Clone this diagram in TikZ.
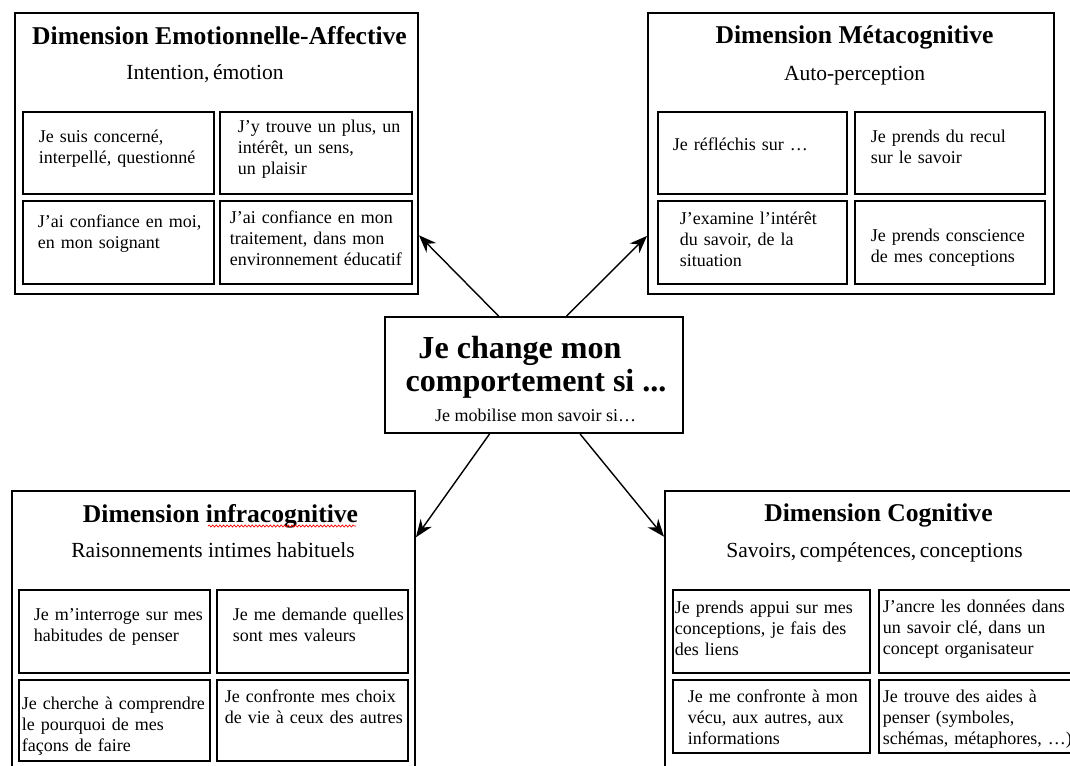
\documentclass[tikz,border=0pt]{standalone}
\usepackage{fontspec}
\setmainfont{Liberation Serif}
\usetikzlibrary{arrows.meta,decorations.pathmorphing}
\newlength{\pxu}
\setlength{\pxu}{0.025cm}
\newcommand\cellfont{\fontsize{12.8}{14.9}\selectfont}
\newcommand\headfont{\bfseries\fontsize{18.2}{20}\selectfont}
\newcommand\subfont{\fontsize{15.3}{17}\selectfont}
\newcommand\bigfont{\bfseries\fontsize{22.8}{24}\selectfont}

\begin{document}
\begin{tikzpicture}[x=0.025cm, y=-0.025cm,
		frame/.style 2 args={draw, line width=1.4pt, anchor=north west, inner sep=0pt,
			minimum width=#1*\pxu, minimum height=#2*\pxu},
		cell/.style n args={4}{draw, line width=1.3pt, anchor=north west, inner sep=0pt,
			font=\cellfont, text width=#1*\pxu, text height=#4*\pxu, text depth=(#2-#4)*\pxu,
			execute at begin node={\leftskip=#3\pxu\relax}},
		head/.style={anchor=base, font=\headfont},
		sub/.style={anchor=base, font=\subfont},
		link/.style={line width=1pt, -{Stealth[length=0.44cm, width=0.34cm]}}]
		\useasboundingbox (0,0) rectangle (1070,765);
		\clip (0,0) rectangle (1070,765);
		\node[frame={403}{281}] (emo) at (14,12) {};
		\node[frame={406}{281}] (meta) at (647,12) {};
		\node[frame={403}{290}] (infra) at (11,490) {};
		\node[frame={424}{290}] (cog) at (664,490) {};
		\node[frame={298}{116}] (ctr) at (384,316) {};
		\node[head] (emoT) at (219.5,44.5) {Dimension Emotionnelle-Affective};
		\node[sub] (emoS) at (205,79) {Intention,\,émotion};
		\node[head] (metaT) at (854.5,43.5) {Dimension Métacognitive};
		\node[sub] (metaS) at (854.5,80) {Auto-perception};
		\node[head] (infraT) at (220.5,522.5) {Dimension infracognitive};
		\node[sub] (infraS) at (213,557) {Raisonnements intimes habituels};
		\node[head] (cogT) at (878.5,521.5) {Dimension Cognitive};
		\node[sub] (cogS) at (874.5,557) {Savoirs,\,compétences,\,conceptions};
		\draw[red, line width=0.5pt, decorate, decoration={snake, amplitude=0.025cm, segment length=0.09cm}] (208,526) -- (356,526);
		\node[anchor=base, font=\bigfont] (ctrA) at (520,358) {Je change mon};
		\node[anchor=base, font=\bigfont] (ctrB) at (536,391) {comportement si ...};
		\node[anchor=base, font=\cellfont] (ctrS) at (535.5,421) {Je mobilise mon savoir si…};
		\node[cell={191}{82}{16}{31}] (emo1) at (22,111) {Je suis concerné,\\interpellé, questionné};
		\node[cell={192}{82}{18}{21}] (emo2) at (219,111) {J'y trouve un plus, un\\intérêt, un sens,\\un plaisir};
		\node[cell={191}{83}{15}{27}] (emo3) at (22,200) {J'ai confiance en moi,\\en mon soignant};
		\node[cell={192}{83}{10}{23}] (emo4) at (219,200) {J'ai confiance en mon\\traitement, dans mon\\environnement éducatif};
		\node[cell={189}{82}{15}{39}] (meta1) at (657,111) {Je réfléchis sur …};
		\node[cell={190}{82}{16}{31}] (meta2) at (854,111) {Je prends du recul\\sur le savoir};
		\node[cell={189}{83}{22}{24}] (meta3) at (657,200) {J'examine l'intérêt\\du savoir, de la\\situation};
		\node[cell={190}{83}{16}{41}] (meta4) at (854,200) {Je prends conscience\\de mes conceptions};
		\node[cell={191}{83}{15}{31}] (infra1) at (18,589) {Je m'interroge sur mes\\habitudes de penser};
		\node[cell={191}{83}{16}{31}] (infra2) at (216,589) {Je me demande quelles\\sont mes valeurs};
		\node[cell={191}{81}{3}{30}] (infra3) at (18,679) {Je cherche à comprendre\\le pourquoi de mes\\façons de faire};
		\node[cell={191}{81}{8}{23}] (infra4) at (216,679) {Je confronte mes choix\\de vie à ceux des autres};
		\node[cell={197}{83}{2}{24}] (cog1) at (672,589) {Je prends appui sur mes\\conceptions, je fais des\\des liens};
		\node[cell={210}{83}{4}{23}] (cog2) at (878,589) {J'ancre les données dans\\un savoir clé, dans un\\concept organisateur};
		\node[cell={197}{73}{15}{23}] (cog3) at (672,679) {Je me confronte à mon\\vécu, aux autres, aux\\informations};
		\node[cell={210}{73}{4}{23}] (cog4) at (878,679) {Je trouve des aides à\\penser (symboles,\\schémas, métaphores, …)};
		\draw[link] (ctr.121) -- (emo.338);
		\draw[link] (ctr.61) -- (meta.202);
		\draw[link] (ctr.233) -- (infra.26);
		\draw[link] (ctr.308) -- (cog.155);
	\end{tikzpicture}
\end{document}
